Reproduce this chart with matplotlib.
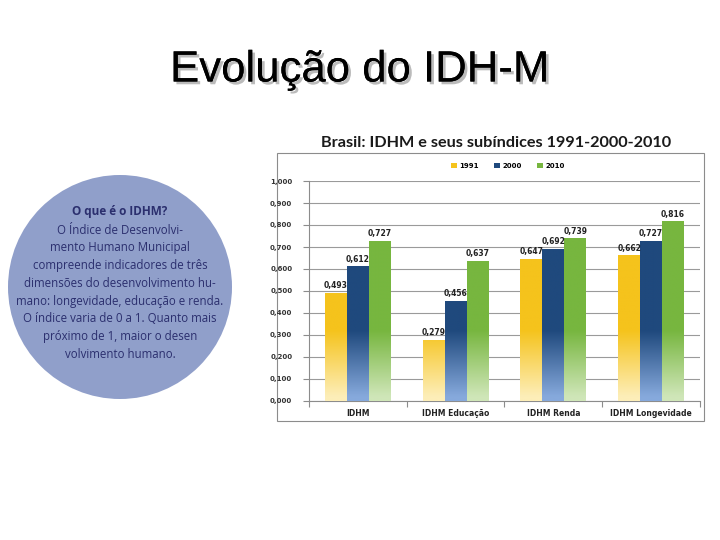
import matplotlib
matplotlib.use("Agg")
import matplotlib.pyplot as plt
import numpy as np
from matplotlib.patches import Rectangle, Circle, Patch
import matplotlib.patheffects as pe

categories = ["IDHM", "IDHM Educação", "IDHM Renda", "IDHM Longevidade"]
years = ["1991", "2000", "2010"]
v1991 = [0.493, 0.279, 0.647, 0.662]
v2000 = [0.612, 0.456, 0.692, 0.727]
v2010 = [0.727, 0.637, 0.739, 0.816]
value_labels_1991 = ["0,493", "0,279", "0,647", "0,662"]
value_labels_2000 = ["0,612", "0,456", "0,692", "0,727"]
value_labels_2010 = ["0,727", "0,637", "0,739", "0,816"]
yticks = [0.0, 0.1, 0.2, 0.3, 0.4, 0.5, 0.6, 0.7, 0.8, 0.9, 1.0]
ytick_labels = ["0,000", "0,100", "0,200", "0,300", "0,400", "0,500",
                "0,600", "0,700", "0,800", "0,900", "1,000"]

info_title = "O que é o IDHM?"
info_lines = ["O Índice de Desenvolvi-", "mento Humano Municipal",
              "compreende indicadores de três", "dimensões do desenvolvimento hu-",
              "mano: longevidade, educação e renda.", "O índice varia de 0 a 1. Quanto mais",
              "próximo de 1, maior o desen", "volvimento humano."]

top_colors = ["#f5c31c", "#1f497d", "#77b63f"]
bottom_colors = ["#fdeeb8", "#86a9dc", "#cfe6b8"]

fig = plt.figure(figsize=(7.2, 5.4), dpi=100)
fig.patch.set_facecolor("white")

# Slide title with shadow
fig.text(0.5, 1 - 70 / 540, "Evolução do IDH-M", ha="center", va="center",
         fontsize=31.5, family="Liberation Sans", color="black",
         path_effects=[pe.withSimplePatchShadow(offset=(2, -2), shadow_rgbFace="#aaaaaa", alpha=0.8), pe.Normal()])

cax = fig.add_axes([0, 0, 1, 1], zorder=0)
cax.set_xlim(0, 720)
cax.set_ylim(540, 0)
cax.axis("off")
cax.add_patch(Circle((120, 287), 112, facecolor="#909fca", edgecolor="none"))
cax.text(120, 212, info_title, ha="center", va="center", fontsize=8.5,
         fontweight="bold", color="#2b2f6e", family="Open Sans")
for i, line in enumerate(info_lines):
    cax.text(120, 230 + i * 17.8, line, ha="center", va="center", fontsize=8.3,
             color="#2b2f6e", family="Open Sans")

# Chart frame
cax.add_patch(Rectangle((277, 153), 427, 268, facecolor="white", edgecolor="#8c8c8c", lw=0.8))
cax.text(496, 143, "Brasil: IDHM e seus subíndices 1991-2000-2010", ha="center", va="center",
         fontsize=11.7, fontweight="bold", color="#1a1a1a", family="Lato")

ax = fig.add_axes([309 / 720, 1 - 401 / 540, 391 / 720, 220 / 540], zorder=1)
ax.set_facecolor("none")

series = [v1991, v2000, v2010]
labels = [value_labels_1991, value_labels_2000, value_labels_2010]
bw = 0.225
x = np.arange(len(categories)) + 0.5

def hex2rgb(h):
    return np.array(matplotlib.colors.to_rgb(h))

for s, (vals, labs) in enumerate(zip(series, labels)):
    offs = (s - 1) * bw
    bars = ax.bar(x + offs, vals, width=bw, color="none", edgecolor="none", zorder=3,
                  label=years[s])
    top = hex2rgb(top_colors[s])
    bot = hex2rgb(bottom_colors[s])
    for b, v, lab in zip(bars, vals, labs):
        yy = np.linspace(0, v, 200)
        t = np.clip((yy - 0.02) / 0.30, 0, 1)[:, None]
        img = (bot[None, :] * (1 - t) + top[None, :] * t)[:, None, :]
        im = ax.imshow(img, extent=(b.get_x(), b.get_x() + bw, 0, v), origin="lower",
                       aspect="auto", zorder=3, interpolation="bilinear")
        im.set_clip_path(b)
        ax.text(b.get_x() + bw / 2, v + 0.012, lab, ha="center", va="bottom",
                fontsize=5.5, fontweight="bold", color="#222222", zorder=4)

ax.set_xlim(0, 4)
ax.set_ylim(0, 1.0)
ax.set_yticks(yticks)
ax.set_yticklabels(ytick_labels, fontsize=5, fontweight="bold", color="#333333")
ax.yaxis.grid(True, color="#9a9a9a", lw=0.8, zorder=0)
ax.set_axisbelow(True)
ax.set_xticks([0, 1, 2, 3, 4])
ax.set_xticklabels([])
ax.set_xticks(x, minor=True)
ax.set_xticklabels(categories, minor=True, fontsize=5.5, fontweight="bold", color="#222222")
ax.tick_params(axis="x", which="minor", length=0, pad=6)
ax.tick_params(axis="x", which="major", length=4, color="#8c8c8c", direction="out")
ax.tick_params(axis="y", length=4, color="#8c8c8c", pad=8)
for sp in ["top", "right"]:
    ax.spines[sp].set_visible(False)
for sp in ["left", "bottom"]:
    ax.spines[sp].set_color("#8c8c8c")
    ax.spines[sp].set_linewidth(0.8)

handles = [Patch(facecolor=top_colors[i], edgecolor="none") for i in range(3)]
fig.legend(handles, years, loc="center", bbox_to_anchor=(508 / 720, 1 - 166 / 540),
           ncol=3, frameon=False, handlelength=0.8, handleheight=0.8,
           columnspacing=2.2, handletextpad=0.4, prop={"weight": "bold", "size": 5})

fig.savefig("out.png", dpi=100)
